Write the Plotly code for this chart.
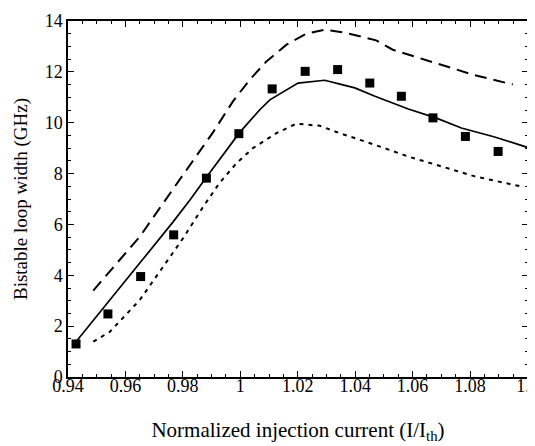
import plotly.graph_objects as go

# Measured data (squares)
meas_x = [0.9428, 0.9539, 0.9653, 0.9768, 0.9882, 0.9995, 1.0111, 1.0226,
          1.0339, 1.0451, 1.0561, 1.0671, 1.0784, 1.0898]
meas_y = [1.3, 2.48, 3.95, 5.59, 7.82, 9.57, 11.33, 12.02,
          12.09, 11.56, 11.04, 10.19, 9.46, 8.87]

# Solid theory curve
solid_x = [0.9425, 0.9535, 0.965, 0.9766, 0.9824, 0.9882, 0.9998, 1.0068, 1.0103,
           1.0201, 1.0294, 1.0354, 1.0399, 1.0469, 1.0585, 1.0681, 1.077, 1.0886, 1.1]
solid_y = [1.35, 2.9, 4.48, 6.1, 6.95, 7.86, 9.62, 10.51, 10.9,
           11.56, 11.67, 11.5, 11.37, 11.04, 10.54, 10.19, 9.79, 9.44, 9.03]

# Long-dashed curve
long_x = [0.9488, 0.9546, 0.965, 0.9772, 0.9871, 0.9905, 0.9975, 1.0033, 1.0091,
          1.0161, 1.023, 1.0294, 1.0369, 1.0473, 1.0531, 1.0694, 1.081, 1.0949]
long_y = [3.4, 4.15, 5.52, 7.49, 9.07, 9.62, 10.85, 11.69, 12.41,
          13.07, 13.5, 13.66, 13.53, 13.24, 12.87, 12.28, 11.89, 11.5]

# Short-dashed curve
short_x = [0.9488, 0.9546, 0.965, 0.9766, 0.9801, 0.9871, 0.9929, 0.9987, 1.0044,
           1.0126, 1.0195, 1.0277, 1.0346, 1.0469, 1.0585, 1.0701, 1.0817, 1.0979]
short_y = [1.39, 1.78, 3.03, 4.9, 5.46, 6.7, 7.65, 8.41, 9.0,
           9.59, 9.96, 9.88, 9.59, 9.13, 8.67, 8.28, 7.89, 7.49]

x_tickvals = [0.94, 0.96, 0.98, 1.0, 1.02, 1.04, 1.06, 1.08, 1.1]
x_ticktext = ["0.94", "0.96", "0.98", "1", "1.02", "1.04", "1.06", "1.08", "1.1"]
y_tickvals = [0, 2, 4, 6, 8, 10, 12, 14]
y_ticktext = ["0", "2", "4", "6", "8", "10", "12", "14"]

fig = go.Figure()
fig.add_trace(go.Scatter(x=long_x, y=long_y, mode="lines",
                         line=dict(color="black", width=2, dash="12px,7px")))
fig.add_trace(go.Scatter(x=short_x, y=short_y, mode="lines",
                         line=dict(color="black", width=2, dash="4px,5px")))
fig.add_trace(go.Scatter(x=solid_x, y=solid_y, mode="lines",
                         line=dict(color="black", width=1.7)))
fig.add_trace(go.Scatter(x=meas_x, y=meas_y, mode="markers",
                         marker=dict(symbol="square", size=9, color="black")))

font_family = "Liberation Serif, Times New Roman, serif"
# page body adds an 8px offset; compensate so the plot lands where the reference has it
fig.update_layout(
    width=527, height=438,
    margin=dict(l=60, r=7, t=13, b=69),
    paper_bgcolor="white", plot_bgcolor="white",
    showlegend=False,
    font=dict(family=font_family, color="black", size=18),
)
fig.update_xaxes(
    range=[0.94, 1.1002], tickvals=x_tickvals, ticktext=x_ticktext,
    ticks="inside", ticklen=6, tickwidth=1.2, tickcolor="black",
    showline=True, linecolor="black", linewidth=1.5, mirror="ticks",
    showgrid=False, zeroline=False,
    minor=dict(dtick=0.005, ticks="inside", ticklen=3, tickcolor="black", showgrid=False),
    title=dict(text="Normalized injection current (I/I<sub>th</sub>)",
               font=dict(size=21), standoff=27),
    tickfont=dict(size=18),
    ticklabelstandoff=-8,
    ticklabeloverflow="allow",
    automargin=False,
)
fig.update_yaxes(
    range=[0, 14], tickvals=y_tickvals, ticktext=y_ticktext,
    ticks="inside", ticklen=6, tickwidth=1.2, tickcolor="black",
    showline=True, linecolor="black", linewidth=1.5, mirror="ticks",
    showgrid=False, zeroline=False,
    minor=dict(dtick=0.5, ticks="inside", ticklen=3, tickcolor="black", showgrid=False),
    title=dict(text="Bistable loop width (GHz)", font=dict(size=19), standoff=12),
    tickfont=dict(size=18),
    automargin=False,
)

fig.write_html("out.html")
